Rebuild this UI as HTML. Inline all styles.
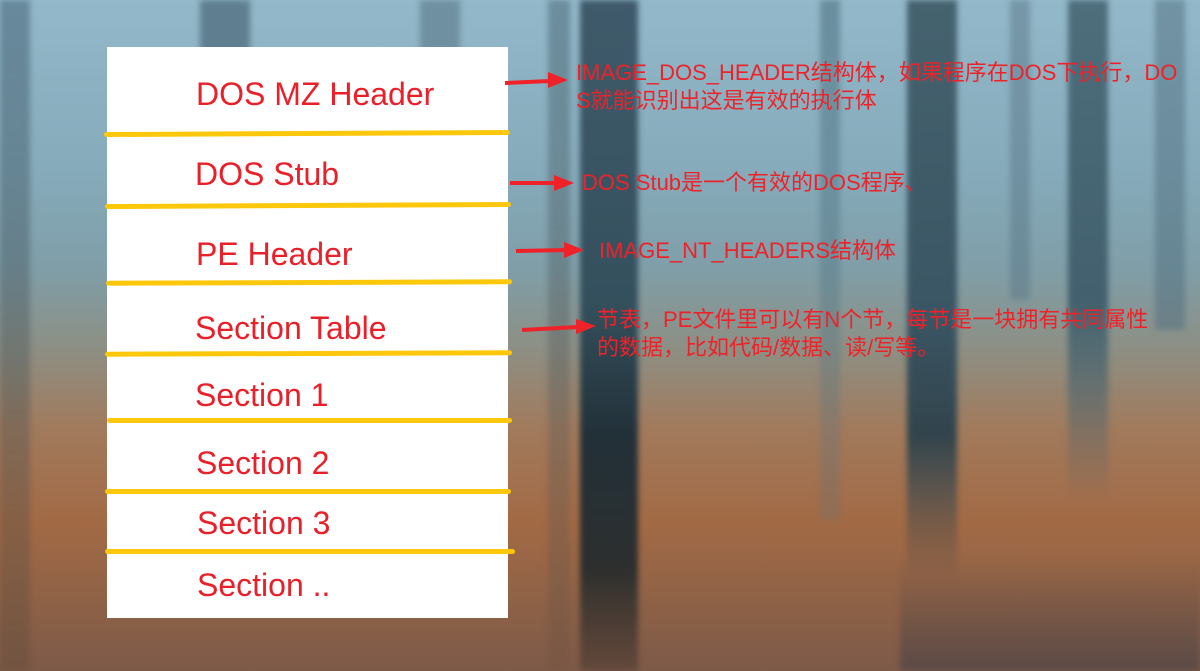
<!DOCTYPE html>
<html><head><meta charset="utf-8"><style>
body{margin:0}
#c{position:relative;width:1200px;height:671px;overflow:hidden;
background:linear-gradient(180deg,#92b8c9 0%,#86abbb 25%,#7f9ea8 40%,#8d8f84 52%,#a17a5c 64%,#a26a45 78%,#7d5a48 100%);
font-family:"Liberation Sans","Noto Sans CJK SC",sans-serif}
.t{position:absolute;top:0;filter:blur(3px)}
.box{position:absolute;left:107px;top:47px;width:401px;height:571px;background:#fff}
.y{position:absolute;height:5px;background:#fdc70c;border-radius:3px}
.l{position:absolute;color:#e8202a;font-size:32px;line-height:32px;white-space:nowrap}
.r{position:absolute;color:#ee2228;font-size:22px;line-height:28px;white-space:nowrap;letter-spacing:0}
</style></head><body><div id="c">
<div class="t" style="left:0;width:30px;height:671px;background:linear-gradient(180deg,rgba(60,90,110,.5),rgba(90,70,50,.3))"></div>
<div class="t" style="left:200px;width:50px;height:60px;background:#5f7f90"></div>
<div class="t" style="left:420px;width:40px;height:60px;background:#6f90a0"></div>
<div class="t" style="left:548px;width:22px;height:671px;background:linear-gradient(180deg,rgba(70,100,115,.5),rgba(110,80,60,.3))"></div>
<div class="t" style="left:580px;width:58px;height:671px;background:linear-gradient(180deg,#3f5a6a 0%,#34505d 45%,#223038 65%,#2d2f2e 85%,rgba(80,60,50,.6) 100%)"></div>
<div class="t" style="left:820px;width:20px;height:520px;background:linear-gradient(180deg,rgba(80,115,130,.6),rgba(80,115,130,.2))"></div>
<div class="t" style="left:907px;width:50px;height:580px;background:linear-gradient(180deg,#45626f 0%,#3a5563 55%,#32444c 75%,rgba(60,60,60,0) 100%)"></div>
<div class="t" style="left:1010px;width:20px;height:300px;background:rgba(90,120,135,.5)"></div>
<div class="t" style="left:1068px;width:40px;height:500px;background:linear-gradient(180deg,#4e6e7c 0%,#42606d 60%,rgba(60,80,90,0) 100%)"></div>
<div class="t" style="left:1155px;width:30px;height:330px;background:rgba(80,110,125,.5)"></div>
<div class="t" style="left:900px;top:560px;width:300px;height:111px;background:linear-gradient(180deg,rgba(60,60,70,0),rgba(60,60,70,.5))"></div>
<div class="box"></div>
<div class="y" style="left:104px;top:131px;width:406px;transform:rotate(-.3deg)"></div>
<div class="y" style="left:105px;top:203px;width:406px;transform:rotate(-.3deg)"></div>
<div class="y" style="left:106px;top:280px;width:406px;transform:rotate(-.2deg)"></div>
<div class="y" style="left:105px;top:351px;width:407px;transform:rotate(-.2deg)"></div>
<div class="y" style="left:107px;top:418px;width:405px"></div>
<div class="y" style="left:105px;top:489px;width:406px"></div>
<div class="y" style="left:105px;top:549px;width:410px"></div>
<div class="l" style="left:196px;top:78px">DOS MZ Header</div>
<div class="l" style="left:195px;top:158px">DOS Stub</div>
<div class="l" style="left:196px;top:238px">PE Header</div>
<div class="l" style="left:195px;top:312px">Section Table</div>
<div class="l" style="left:195px;top:379px">Section 1</div>
<div class="l" style="left:196px;top:447px">Section 2</div>
<div class="l" style="left:197px;top:507px">Section 3</div>
<div class="l" style="left:197px;top:569px">Section ..</div>
<svg width="1200" height="671" style="position:absolute;left:0;top:0">
<g stroke="#ee2228" stroke-width="4" fill="#ee2228">
<line x1="505" y1="83" x2="550" y2="81"/><polygon points="548,72 568,80 548,88" stroke="none"/>
<line x1="510" y1="183" x2="556" y2="183"/><polygon points="554,175 574,183 554,191" stroke="none"/>
<line x1="516" y1="251" x2="567" y2="250"/><polygon points="564,242 584,250 564,258" stroke="none"/>
<line x1="522" y1="330" x2="578" y2="327"/><polygon points="576,319 596,326 576,334" stroke="none"/>
</g></svg>
<div class="r" style="left:576px;top:59px">IMAGE_DOS_HEADER结构体，如果程序在DOS下执行，DO<br>S就能识别出这是有效的执行体</div>
<div class="r" style="left:582px;top:169px">DOS Stub是一个有效的DOS程序、</div>
<div class="r" style="left:599px;top:237px">IMAGE_NT_HEADERS结构体</div>
<div class="r" style="left:597px;top:306px">节表，PE文件里可以有N个节，每节是一块拥有共同属性<br>的数据，比如代码/数据、读/写等。</div>
</div></body></html>
